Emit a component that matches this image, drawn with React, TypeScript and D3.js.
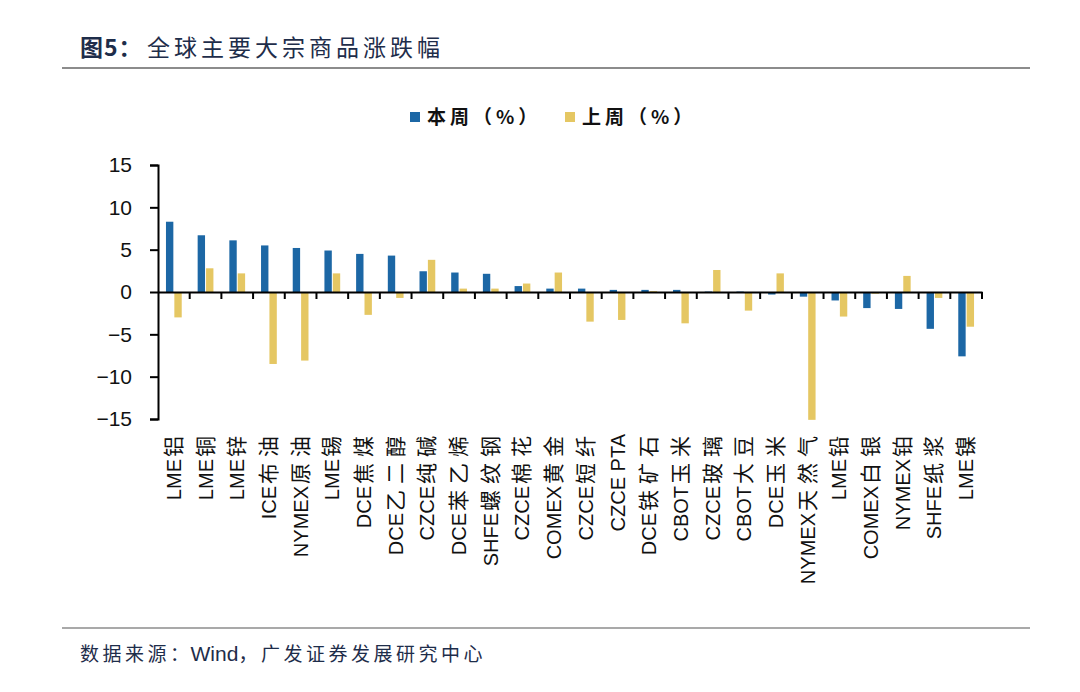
import React, { useRef, useEffect } from "react";
import * as d3 from "d3";

const categories = [
  "LME铝", "LME铜", "LME锌", "ICE布油", "NYMEX原油", "LME锡", "DCE焦煤",
  "DCE乙二醇", "CZCE纯碱", "DCE苯乙烯", "SHFE螺纹钢", "CZCE棉花", "COMEX黄金",
  "CZCE短纤", "CZCE PTA", "DCE铁矿石", "CBOT玉米", "CZCE玻璃", "CBOT大豆",
  "DCE玉米", "NYMEX天然气", "LME铅", "COMEX白银", "NYMEX铂", "SHFE纸浆", "LME镍",
];
const thisWeek = [
  8.3, 6.7, 6.1, 5.5, 5.2, 4.9, 4.5, 4.3, 2.45, 2.3, 2.15, 0.7, 0.4,
  0.4, 0.25, 0.25, 0.25, 0.05, 0.05, -0.3, -0.55, -1.0, -1.9, -2.0, -4.35, -7.6,
];
const lastWeek = [
  -3.0, 2.8, 2.2, -8.5, -8.1, 2.2, -2.7, -0.7, 3.8, 0.4, 0.4, 1.0, 2.3,
  -3.5, -3.3, 0.1, -3.7, 2.6, -2.2, 2.2, -15.1, -2.9, -0.2, 1.9, -0.7, -4.1,
];
const yTicks = [15, 10, 5, 0, -5, -10, -15];
const seriesNames = ["本周（%）", "上周（%）"];
const seriesColors = ["#1c67a5", "#e5c763"];

const W = 1080;
const H = 692;
const latin = "'Liberation Sans', Arial, 'Noto Sans CJK SC', sans-serif";
const cjk = "'Noto Sans CJK SC', 'Liberation Sans', sans-serif";
const navy = "#1e2d4a";

export default function App() {
  const ref = useRef<SVGSVGElement | null>(null);

  useEffect(() => {
    const svg = d3.select(ref.current);
    svg.selectAll("*").remove();
    svg.attr("width", W).attr("height", H);

    svg.append("rect").attr("width", W).attr("height", H).attr("fill", "#fff");

    // Title
    const title = svg
      .append("text")
      .attr("x", 80)
      .attr("y", 56)
      .attr("fill", navy)
      .style("font-size", "23px")
      .style("font-family", cjk);
    title.append("tspan").style("font-weight", "bold").style("letter-spacing", "1px").text("图5：");
    title.append("tspan").attr("x", 147).style("letter-spacing", "4px").text("全球主要大宗商品涨跌幅");

    svg.append("line")
      .attr("x1", 62).attr("x2", 1030).attr("y1", 68).attr("y2", 68)
      .attr("stroke", "#8c8c8c").attr("stroke-width", 2);
    svg.append("line")
      .attr("x1", 62).attr("x2", 1030).attr("y1", 628).attr("y2", 628)
      .attr("stroke", "#8c8c8c").attr("stroke-width", 1.5);

    // Source
    const src = svg.append("text")
      .attr("x", 80).attr("y", 661)
      .attr("fill", navy)
      .style("font-size", "19px")
      .style("font-family", cjk);
    src.append("tspan").style("letter-spacing", "3.5px").text("数据来源：");
    src.append("tspan").attr("dx", -2).style("font-family", latin).style("font-size", "21px").text("Wind");
    src.append("tspan").style("letter-spacing", "3.5px").text("，广发证券发展研究中心");

    // Legend
    const legendX = [410, 565];
    seriesNames.forEach((name, i) => {
      const g = svg.append("g").attr("transform", `translate(${legendX[i]},117)`);
      g.append("rect").attr("x", 0).attr("y", -5).attr("width", 10).attr("height", 10)
        .attr("fill", seriesColors[i]);
      g.append("text").attr("x", 17).attr("y", 7)
        .attr("fill", "#111")
        .style("font-size", "19px").style("font-weight", "bold")
        .style("letter-spacing", "4px")
        .style("font-family", cjk)
        .text(name);
    });

    // Scales
    const x0 = d3.scaleBand<string>().domain(categories).range([158, 982]).padding(0);
    const x1 = d3.scaleBand<string>()
      .domain(["a", "b"])
      .range([0, x0.step()])
      .paddingInner(0.12)
      .paddingOuter(0.95);
    const y = d3.scaleLinear().domain([-15, 15]).range([419, 165]);

    // Bars
    const series = [thisWeek, lastWeek];
    series.forEach((vals, si) => {
      svg.append("g")
        .selectAll("rect")
        .data(vals)
        .enter()
        .append("rect")
        .attr("x", (_d, i) => (x0(categories[i]) as number) + (x1(si === 0 ? "a" : "b") as number))
        .attr("width", x1.bandwidth())
        .attr("y", (d) => y(Math.max(0, d)))
        .attr("height", (d) => Math.abs(y(d) - y(0)))
        .attr("fill", seriesColors[si]);
    });

    // Y axis
    const yAxis = svg.append("g")
      .attr("transform", "translate(158,0)")
      .call(d3.axisLeft(y).tickValues(yTicks).tickSize(8).tickPadding(18).tickFormat(d3.format("d")) as any);
    yAxis.select(".domain").attr("stroke", "#000").attr("stroke-width", 2);
    yAxis.selectAll(".tick line").attr("stroke", "#000").attr("stroke-width", 2);
    yAxis.selectAll("text")
      .attr("fill", "#111")
      .style("font-size", "21px")
      .style("font-family", latin);

    // X axis at zero
    const xAxis = svg.append("g")
      .attr("transform", `translate(0,${y(0)})`)
      .call(d3.axisBottom(x0).tickSize(0).tickSizeOuter(0) as any);
    xAxis.select(".domain").attr("stroke", "#000").attr("stroke-width", 2);
    xAxis.selectAll(".tick line").remove();
    xAxis.selectAll(".tick text").remove();
    const bounds = categories.map((c) => (x0(c) as number) + x0.step());
    xAxis.selectAll(".sep")
      .data(bounds)
      .enter()
      .append("line")
      .attr("x1", (d) => d).attr("x2", (d) => d)
      .attr("y1", 0).attr("y2", 7)
      .attr("stroke", "#000").attr("stroke-width", 2);

    // Category labels (rotated): latin prefix + CJK suffix
    const labels = svg.append("g");
    categories.forEach((c) => {
      const m = c.match(/^([A-Za-z ]+)(.*)$/);
      const head = m ? m[1] : c;
      const tail = m ? m[2] : "";
      const cx = (x0(c) as number) + x0.step() / 2 + 7;
      const t = labels.append("text")
        .attr("transform", `translate(${cx},${tail ? 430 : 434}) rotate(-90)`)
        .attr("text-anchor", "end")
        .attr("fill", "#111");
      t.append("tspan")
        .style("font-size", "20px")
        .style("font-family", latin)
        .text(head);
      if (tail) {
        t.append("tspan")
          .attr("dx", 2)
          .style("font-size", "21px")
          .style("letter-spacing", "6px")
          .style("font-family", cjk)
          .text(tail);
      }
    });
  }, []);

  return (
    <div style={{ position: "absolute", left: 0, top: 0 }}>
      <svg ref={ref} style={{ display: "block" }} />
    </div>
  );
}
